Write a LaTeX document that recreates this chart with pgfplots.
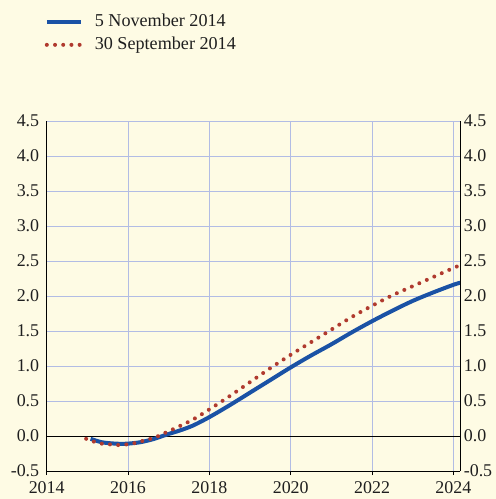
\documentclass[border=0pt]{standalone}
\usepackage{fontspec}
\setmainfont{Liberation Serif}
\usepackage{pgfplots}
\pgfplotsset{compat=1.18}
\definecolor{bgc}{RGB}{254,251,228}
\definecolor{gridc}{RGB}{178,188,228}
\definecolor{blueline}{RGB}{26,82,165}
\definecolor{redline}{RGB}{176,58,46}
\begin{document}
\begin{tikzpicture}
\path[use as bounding box, fill=bgc] (-46.7bp,-28bp) rectangle (449.3bp,471bp);
\pgfplotsset{
  every axis/.append style={
    scale only axis, width=413.6bp, height=350bp,
    xmin=2014, xmax=2024.17, ymin=-0.5, ymax=4.5,
    /pgf/number format/1000 sep={},
    /pgf/number format/assume math mode=true,
    tick label style={font=\fontsize{18}{20}\selectfont, text=black!88},
    axis line style={black, line width=1bp},
  }
}
\begin{axis}[
  axis x line*=bottom, axis y line*=left,
  xtick={2014,2016,...,2024},
  ytick={-0.5,0,...,4.5},
  yticklabel style={/pgf/number format/.cd, fixed, fixed zerofill, precision=1},
  xticklabel style={yshift=-3bp},
  grid=major,
  major grid style={gridc, line width=0.9bp},
  tick align=outside, major tick length=4bp,
  xtick style={black, line width=0.8bp},
  ytick style={draw=none},
  legend style={at={(axis description cs:-0.005,1.311)}, anchor=north west, draw=none, fill=none,
    inner sep=0pt, row sep=4bp, font=\fontsize{18.2}{20}\selectfont, text=black!88,
    nodes={inner sep=1bp, text height=13bp, text depth=4bp}},
  legend cell align=left,
  legend image code/.code={\draw[#1] (0bp,0bp) -- (34bp,0bp);},
]
\addplot[black, line width=0.9bp, forget plot] coordinates {(2014,0) (2024.17,0)};
\addplot[blueline, line width=4bp, smooth] coordinates {
(2015.08,-0.04) (2015.36,-0.09) (2015.72,-0.11) (2015.97,-0.11) (2016.29,-0.09)
(2016.62,-0.045) (2016.95,0.02) (2017.28,0.08) (2017.6,0.15) (2018,0.27)
(2018.5,0.44) (2019,0.62) (2019.5,0.80) (2020,0.98) (2020.5,1.15)
(2021,1.31) (2021.5,1.48) (2022,1.64) (2022.5,1.79) (2023,1.93)
(2023.5,2.05) (2024,2.16) (2024.17,2.19)};
\addlegendentry{\hspace{11bp}5 November 2014}
\addplot[redline, line width=4bp, line cap=round, dash pattern=on 0bp off 8.2bp, smooth] coordinates {
(2014.97,-0.04) (2015.16,-0.08) (2015.36,-0.11) (2015.56,-0.12) (2015.76,-0.13)
(2015.97,-0.12) (2016.17,-0.10) (2016.36,-0.07) (2016.56,-0.04) (2016.75,0.0)
(2016.93,0.05) (2017.12,0.10) (2017.30,0.15) (2017.48,0.20) (2017.67,0.26)
(2018,0.38) (2018.5,0.57) (2019,0.77) (2019.5,0.97) (2020,1.16)
(2020.5,1.34) (2021,1.52) (2021.5,1.70) (2022,1.86) (2022.5,2.01)
(2023,2.14) (2023.5,2.27) (2024,2.40) (2024.17,2.44)};
\addlegendentry{\hspace{11bp}30 September 2014}
\end{axis}
\begin{axis}[
  axis x line=none, axis y line*=right,
  ytick={-0.5,0,...,4.5},
  yticklabel style={/pgf/number format/.cd, fixed, fixed zerofill, precision=1},
  ytick style={draw=none},
]
\addplot[draw=none] coordinates {(2014,0)};
\end{axis}
\end{tikzpicture}
\end{document}
